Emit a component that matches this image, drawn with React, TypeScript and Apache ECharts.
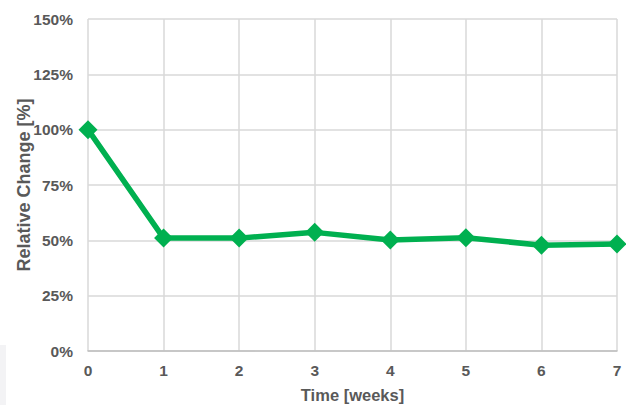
import React, { useEffect, useRef } from "react";
import * as echarts from "echarts";

const weeks = [0, 1, 2, 3, 4, 5, 6, 7];
const relativeChange = [100, 51, 51, 53.6, 50.2, 51.2, 47.8, 48.3];
const yTicks = [0, 25, 50, 75, 100, 125, 150];

export default function App() {
  const ref = useRef<HTMLDivElement>(null);
  useEffect(() => {
    const chart = echarts.init(ref.current!, undefined, { renderer: "svg" });
    const labelStyle = {
      fontFamily: "Liberation Sans, Arial, sans-serif",
      fontWeight: "bold" as const,
      fontSize: 15.5,
      color: "#595959",
    };
    chart.setOption({
      animation: false,
      backgroundColor: "#ffffff",
      grid: { left: 88, right: 9, top: 19, bottom: 54, outerBoundsMode: "none", containLabel: false },
      graphic: [
        {
          type: "rect",
          left: 0,
          top: 345,
          shape: { width: 6, height: 60 },
          style: { fill: "#f3f3f5" },
          z: -1,
        },
      ],
      xAxis: {
        type: "value",
        min: 0,
        max: 7,
        interval: 1,
        name: "Time [weeks]",
        nameLocation: "middle",
        nameGap: 35,
        nameMoveOverlap: false,
        nameTextStyle: { ...labelStyle, fontSize: 16.5 },
        axisLine: { show: true, lineStyle: { color: "#bfbfbf", width: 1.5 } },
        axisTick: { show: false },
        axisLabel: { ...labelStyle, margin: 11 },
        splitLine: { show: true, lineStyle: { color: "#d9d9d9", width: 1.5 } },
      },
      yAxis: {
        type: "value",
        min: 0,
        max: 150,
        interval: 25,
        name: "Relative Change [%]",
        nameLocation: "middle",
        nameGap: 55,
        nameMoveOverlap: false,
        nameTextStyle: { ...labelStyle, fontSize: 18 },
        axisLine: { show: false },
        axisTick: { show: false },
        axisLabel: {
          ...labelStyle,
          margin: 15,
          formatter: (v: number) => (yTicks.includes(v) ? `${v}%` : ""),
        },
        splitLine: { show: true, lineStyle: { color: "#d9d9d9", width: 1.5 } },
      },
      series: [
        {
          type: "line",
          data: weeks.map((w, i) => [w, relativeChange[i]]),
          symbol: "diamond",
          symbolSize: 19,
          lineStyle: { color: "#00b050", width: 5.5 },
          itemStyle: { color: "#00b050" },
          z: 5,
        },
      ],
    });
    return () => chart.dispose();
  }, []);
  return <div ref={ref} style={{ width: 626, height: 405, position: "absolute", left: 0, top: 0 }} />;
}
